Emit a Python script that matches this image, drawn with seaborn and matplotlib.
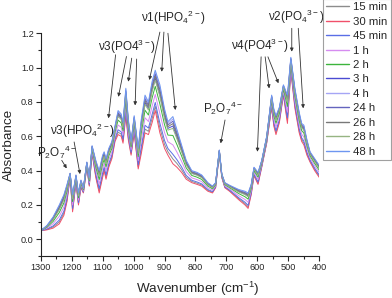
import matplotlib
matplotlib.use("Agg")
import matplotlib.pyplot as plt
from matplotlib.ticker import MultipleLocator
import seaborn as sns
import pandas as pd

sns.set_style("ticks")
plt.rcParams['font.family'] = ['Liberation Sans', 'DejaVu Sans']
plt.rcParams['mathtext.default'] = 'regular'

wavenumber = [1300, 1280, 1260, 1240, 1225, 1215, 1205, 1197, 1186, 1178, 1170, 1162, 1151, 1143,
              1134, 1122, 1111, 1100, 1095, 1089, 1080, 1070, 1060, 1050, 1040, 1034, 1025, 1017,
              1008, 998, 985, 975, 963, 952, 940, 930, 915, 900, 889, 873, 860, 845, 830, 812,
              795, 780, 760, 745, 735, 723, 715, 705, 690, 660, 640, 630, 620, 611, 598, 586,
              570, 554, 547, 540, 529, 516, 503, 492, 479, 465, 457, 450, 440, 430, 415, 400]

min15 = [.05,.058,.072,.101,.152,.23,.363,.17,.335,.207,.305,.273,.423,.315,.505,.37,.283,.373,.411,.362,.431,.48,.579,.624,.613,.572,.736,.592,.498,.63,.422,.52,.642,.629,.704,.774,.648,.553,.51,.468,.442,.406,.361,.337,.327,.317,.285,.274,.303,.502,.362,.303,.284,.236,.208,.189,.266,.375,.327,.424,.564,.777,.67,.621,.689,.846,.692,.988,.777,.632,.581,.562,.499,.456,.407,.367]
min30 = [.05,.055,.065,.09,.14,.22,.36,.16,.33,.20,.30,.27,.42,.31,.50,.36,.27,.36,.40,.35,.42,.47,.57,.61,.60,.56,.72,.58,.49,.62,.41,.50,.62,.61,.68,.75,.62,.53,.49,.44,.42,.39,.35,.33,.32,.31,.28,.27,.30,.50,.36,.30,.28,.23,.20,.18,.26,.37,.32,.42,.56,.77,.66,.61,.68,.84,.675,.98,.765,.62,.57,.55,.49,.45,.40,.36]
min45 = [.05,.06,.078,.112,.164,.24,.365,.18,.339,.214,.309,.276,.426,.32,.509,.38,.296,.386,.422,.374,.442,.49,.588,.638,.626,.584,.752,.604,.506,.64,.434,.54,.664,.648,.728,.797,.676,.576,.529,.495,.464,.422,.372,.344,.334,.323,.29,.278,.306,.504,.364,.306,.287,.242,.216,.198,.272,.38,.334,.428,.568,.784,.68,.632,.698,.852,.708,.996,.788,.644,.591,.573,.508,.462,.414,.374]
h1 = [.05,.065,.091,.134,.188,.26,.37,.20,.348,.228,.318,.282,.432,.33,.518,.40,.322,.412,.444,.398,.464,.51,.606,.666,.652,.608,.784,.628,.522,.66,.458,.58,.708,.686,.776,.844,.732,.622,.568,.55,.508,.454,.394,.358,.348,.336,.30,.286,.312,.508,.368,.312,.294,.254,.232,.216,.284,.39,.348,.436,.576,.798,.70,.654,.716,.864,.741,1.012,.811,.668,.612,.596,.526,.474,.428,.388]
h2 = [.05,.07,.104,.156,.212,.28,.375,.22,.357,.242,.327,.288,.438,.34,.527,.42,.348,.438,.466,.422,.486,.53,.624,.694,.678,.632,.816,.652,.538,.68,.482,.62,.752,.724,.824,.891,.788,.668,.607,.605,.552,.486,.416,.372,.362,.349,.31,.294,.318,.512,.372,.318,.301,.266,.248,.234,.296,.40,.362,.444,.584,.812,.72,.676,.734,.876,.774,1.028,.834,.692,.633,.619,.544,.486,.442,.402]
h3 = [.05,.075,.117,.178,.236,.30,.38,.24,.366,.256,.336,.294,.444,.35,.536,.44,.374,.464,.488,.446,.508,.55,.642,.722,.704,.656,.848,.676,.554,.70,.506,.66,.796,.762,.872,.938,.844,.714,.646,.66,.596,.518,.438,.386,.376,.362,.32,.302,.324,.516,.376,.324,.308,.278,.264,.252,.308,.41,.376,.452,.592,.826,.74,.698,.752,.888,.807,1.044,.857,.716,.654,.642,.562,.498,.456,.416]
h4 = [.05,.079,.127,.195,.254,.315,.384,.255,.373,.267,.343,.299,.449,.358,.543,.455,.394,.484,.505,.464,.525,.565,.656,.743,.724,.674,.872,.694,.566,.715,.524,.69,.829,.791,.908,.973,.886,.749,.675,.701,.629,.542,.455,.397,.387,.372,.328,.308,.329,.519,.379,.329,.313,.287,.276,.266,.317,.418,.387,.458,.598,.837,.755,.715,.766,.897,.832,1.056,.874,.734,.67,.659,.576,.507,.467,.427]
h24 = [.05,.078,.124,.189,.248,.31,.383,.25,.371,.263,.341,.297,.447,.355,.541,.45,.387,.477,.499,.458,.519,.56,.651,.736,.717,.668,.864,.688,.562,.71,.518,.68,.818,.781,.896,.962,.872,.737,.666,.688,.618,.534,.449,.393,.383,.369,.325,.306,.327,.518,.378,.327,.312,.284,.272,.261,.314,.415,.383,.456,.596,.833,.75,.709,.761,.894,.824,1.052,.869,.728,.665,.654,.571,.504,.463,.423]
h26 = [.05,.076,.12,.184,.242,.305,.381,.245,.368,.26,.338,.296,.446,.353,.538,.445,.381,.471,.494,.452,.514,.555,.647,.729,.711,.662,.856,.682,.558,.705,.512,.67,.807,.772,.884,.95,.858,.726,.656,.674,.607,.526,.444,.39,.38,.365,.323,.304,.326,.517,.377,.326,.31,.281,.268,.257,.311,.413,.38,.454,.594,.83,.745,.704,.757,.891,.815,1.048,.863,.722,.659,.648,.567,.501,.46,.42]
h28 = [.05,.074,.114,.173,.23,.295,.379,.235,.364,.253,.334,.293,.443,.348,.534,.435,.368,.458,.483,.44,.503,.545,.638,.715,.698,.65,.84,.67,.55,.695,.50,.65,.785,.753,.86,.926,.83,.703,.636,.646,.585,.51,.433,.383,.373,.359,.318,.30,.323,.515,.375,.323,.306,.275,.26,.248,.305,.408,.373,.45,.59,.823,.735,.693,.748,.885,.799,1.04,.851,.71,.649,.636,.558,.495,.453,.413]
h48 = [.05,.08,.13,.20,.26,.32,.385,.26,.375,.27,.345,.30,.45,.36,.545,.46,.40,.49,.51,.47,.53,.57,.66,.75,.73,.68,.88,.70,.57,.72,.53,.70,.84,.80,.92,.985,.90,.76,.685,.715,.64,.55,.46,.40,.39,.375,.33,.31,.33,.52,.38,.33,.315,.29,.28,.27,.32,.42,.39,.46,.60,.84,.76,.72,.77,.90,.84,1.06,.88,.74,.675,.665,.58,.51,.47,.43]

labels = ["15 min", "30 min", "45 min", "1 h", "2 h", "3 h", "4 h", "24 h", "26 h", "28 h", "48 h"]
series = [min15, min30, min45, h1, h2, h3, h4, h24, h26, h28, h48]
colors = ["#8c8c8c", "#f0506a", "#5a6ee6", "#d68cf0", "#3cb43c", "#4b4bd2",
          "#a5a5f5", "#6464be", "#787878", "#96b482", "#6e96f0"]

frames = []
for lab, vals in zip(labels, series):
    frames.append(pd.DataFrame({"Wavenumber": wavenumber, "Absorbance": vals, "time": lab}))
df = pd.concat(frames, ignore_index=True)

fig = plt.figure(figsize=(3.92, 2.98), dpi=100)
ax = fig.add_axes([0.1038, 0.1393, 0.7108, 0.749])

sns.lineplot(data=df, x="Wavenumber", y="Absorbance", hue="time", hue_order=labels,
             palette=dict(zip(labels, colors)), sort=False, estimator=None,
             linewidth=0.7, ax=ax)

handles, labs = ax.get_legend_handles_labels()
ax.get_legend().remove()
leg = fig.legend(handles, labs, loc="upper left", bbox_to_anchor=(323 / 392, 1.004),
                 bbox_transform=fig.transFigure, fontsize=8.2, frameon=True, fancybox=False,
                 edgecolor="#a0a0a0", framealpha=1, handlelength=2.0, handletextpad=0.35,
                 labelspacing=0.39, borderpad=0.3, borderaxespad=0)
leg.get_frame().set_linewidth(0.8)
for lh in leg.get_lines():
    lh.set_linewidth(1.0)

ax.set_xlim(1300, 400)
ax.set_ylim(-0.1, 1.2)
ax.xaxis.set_major_locator(MultipleLocator(100))
ax.xaxis.set_minor_locator(MultipleLocator(50))
ax.yaxis.set_major_locator(MultipleLocator(0.2))
ax.yaxis.set_minor_locator(MultipleLocator(0.1))
ax.yaxis.set_major_formatter(matplotlib.ticker.FormatStrFormatter('%.1f'))
ax.tick_params(which="major", direction="out", length=3.5, width=0.8, labelsize=6.6, pad=1.5)
ax.tick_params(which="minor", direction="out", length=2, width=0.8)
for s in ["top", "right"]:
    ax.spines[s].set_visible(False)
for s in ["left", "bottom"]:
    ax.spines[s].set_linewidth(0.8)
    ax.spines[s].set_color("#222222")

ax.set_xlabel("Wavenumber (cm$^{-1}$)", fontsize=9.7)
ax.set_ylabel("Absorbance", fontsize=9.7)
ax.xaxis.set_label_coords(0.565, -0.103)
ax.yaxis.set_label_coords(-0.094, 0.5)

fs = 8.5
arrow = dict(arrowstyle="-|>", color="#333333", lw=0.6, mutation_scale=5, shrinkA=0, shrinkB=0)

ax.text(1247, 0.508, "P$_2$O$_7$$^{4-}$", fontsize=fs, ha="center", va="center")
ax.annotate("", xy=(1216, 0.413), xytext=(1232, 0.46), arrowprops=arrow)

ax.text(1166, 0.631, "ν3(HPO$_4$$^{2-}$)", fontsize=fs, ha="center", va="center")
ax.annotate("", xy=(1173, 0.38), xytext=(1192, 0.567), arrowprops=arrow)

ax.text(1021, 1.12, "ν3(PO4$^{3-}$)", fontsize=fs, ha="center", va="center")
for tip, start in [((1081, 0.705), (1058, 1.075)), ((1049, 0.83), (1023, 1.065)),
                   ((1017, 0.918), (1006, 1.055)), ((995, 0.78), (990, 1.05))]:
    ax.annotate("", xy=tip, xytext=start, arrowprops=arrow)

ax.text(871, 1.29, "ν1(HPO$_4$$^{2-}$)", fontsize=fs, ha="center", va="center")
for tip, start in [((949, 0.928), (915, 1.207)), ((909, 0.976), (902, 1.207)),
                   ((865, 0.753), (889, 1.20))]:
    ax.annotate("", xy=tip, xytext=start, arrowprops=arrow, annotation_clip=False)

ax.text(711, 0.76, "P$_2$O$_7$$^{4-}$", fontsize=fs, ha="center", va="center")
ax.annotate("", xy=(718.6, 0.559), xytext=(704.6, 0.695), arrowprops=arrow)

ax.text(592, 1.126, "ν4(PO4$^{3-}$)", fontsize=fs, ha="center", va="center")
for tip, start in [((600, 0.51), (588, 1.063)), ((562, 0.879), (575, 1.063)),
                   ((532, 0.909), (566, 1.063))]:
    ax.annotate("", xy=tip, xytext=start, arrowprops=arrow)

ax.text(475, 1.295, "ν2(PO$_4$$^{3-}$)", fontsize=fs, ha="center", va="center")
for tip, start in [((489, 1.093), (489, 1.229)), ((452, 0.763), (468, 1.229))]:
    ax.annotate("", xy=tip, xytext=start, arrowprops=arrow, annotation_clip=False)

fig.savefig("out.png", dpi=100)
